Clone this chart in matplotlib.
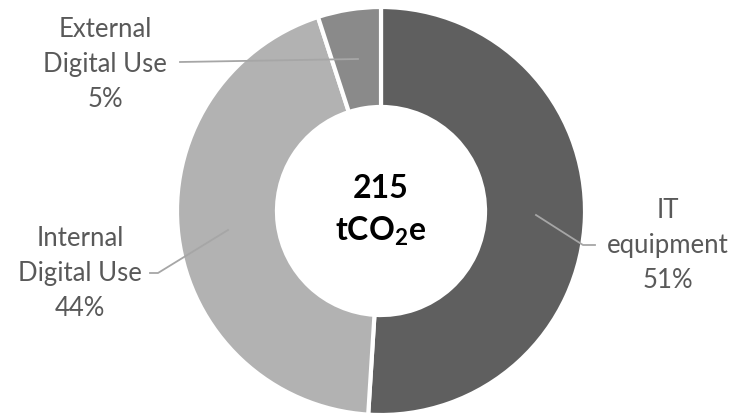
import matplotlib
matplotlib.use("Agg")
import matplotlib.pyplot as plt

categories = ["IT\nequipment", "Internal\nDigital Use", "External\nDigital Use"]
percent = [51, 44, 5]
total_label = "215"
colors = ["#5f5f5f", "#b2b2b2", "#8a8a8a"]

plt.rcParams['font.family'] = ['Lato', 'DejaVu Sans']
plt.rcParams['mathtext.fontset'] = 'custom'
plt.rcParams['mathtext.rm'] = 'Lato'
plt.rcParams['mathtext.bf'] = 'Lato:bold'

W, H = 747, 417
fig = plt.figure(figsize=(W / 100, H / 100), dpi=100)
ax = fig.add_axes([0, 0, 1, 1])

cx, cy, R = 381, 211, 204
wedges, _ = ax.pie(percent, colors=colors, startangle=-90, counterclock=True,
                   center=(cx, cy), radius=R,
                   wedgeprops=dict(width=R * 0.49, edgecolor='white', linewidth=3))
ax.set_xlim(0, W)
ax.set_ylim(H, 0)
ax.set_aspect('equal')
ax.axis('off')

# leader lines and labels
lc = "#a6a6a6"
tc = "#595959"
fs = 18.5
ls = 1.5
# IT equipment
ax.plot([536, 583, 595], [215, 245, 245], color=lc, lw=1.3)
ax.text(668, 245, f"{categories[0]}\n{percent[0]}%", ha='center', va='center',
        fontsize=fs, color=tc, linespacing=ls)
# Internal
ax.plot([228, 158, 150], [230, 273, 273], color=lc, lw=1.3)
ax.text(80, 273, f"{categories[1]}\n{percent[1]}%", ha='center', va='center',
        fontsize=fs, color=tc, linespacing=ls)
# External
ax.plot([358, 180], [59, 62], color=lc, lw=1.3)
ax.text(105, 64, f"{categories[2]}\n{percent[2]}%", ha='center', va='center',
        fontsize=fs, color=tc, linespacing=ls)

# center label
ax.text(cx, 188, total_label, ha='center', va='center', fontsize=23,
        fontweight='bold', color='black')
ax.text(cx, 231, r"tCO$_\mathbf{2}$e", ha='center', va='center', fontsize=23,
        fontweight='bold', color='black')

fig.savefig("out.png", dpi=100)
